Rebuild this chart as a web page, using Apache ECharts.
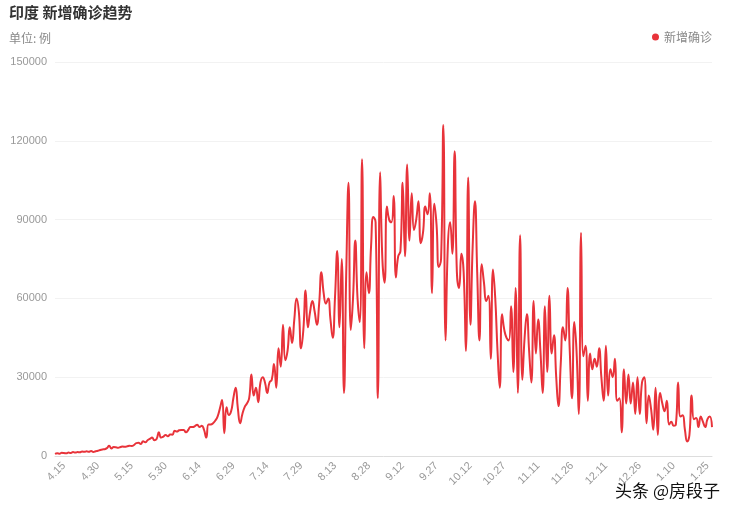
<!DOCTYPE html>
<html><head><meta charset="utf-8">
<script src="https://cdn.jsdelivr.net/npm/echarts@6/dist/echarts.min.js"></script>
<style>html,body{margin:0;padding:0;background:#fff}#c{width:733px;height:508px}</style>
</head><body><div id="c"></div>
<script>
const startDate = [2020, 4, 11];
const aprVals = [800,1000,900,1200,1100,1000,1300,1100,1500,1300,1500,1400,1700,1600,1800,1600,1900,1500,1800,2000];
const mayVals = [2300,2500,2600,3000,3900,2900,3400,3300,3100,3400,3600,3500,3700,3900,3800,4200,4900,5000,4600,5600,5200,6000,6500,7000,6000,6500,9000,7000,7400,8000,7500];
const junVals = [8200,8100,9600,9300,9800,9900,9900,9000,9900,11000,11000,11400,11900,11000,11500,10000,7000,12000,12000,12500,13500,15000,18000,21300,8700,18600,15600,17000,22000,26000];
const julVals = [18000,12500,16000,18600,20000,22000,31000,23000,26000,20500,28000,30000,28000,24000,28000,29000,35000,26000,41000,34000,50000,36500,40000,49000,43000,52000,60000,55000,41000,48000,63000];
const augVals = [49000,55000,59000,55000,50000,58000,70000,62000,58000,60000,52000,45000,60000,78000,49000,75000,24000,70000,104000,48000,60000,82000,60000,51000,113000,41000,70000,62000,80000,91000,89000];
const sepVals = [22000,108000,75000,66000,95000,90000,89000,99000,68000,76000,78000,104000,76000,111000,82000,100000,86000,90000,97000,81000,85000,95000,92000,100000,62000,96000,88000,72000,75000,126000];
const octVals = [44000,80000,89000,77000,116000,70000,64000,77000,70000,40000,106000,50000,80000,97000,70000,44000,73000,66000,59000,61000,37000,71000,60000,40000,26000,54000,48000,45000,44000,57000,32000];
const novVals = [64000,24000,84000,29000,45000,54000,40000,28000,59000,39000,52000,40000,24000,57000,32000,61000,39000,46000,30000,19000,35000,49000,44000,64000,40000,22000,51000,40000,16000,85000];
const decVals = [38000,42000,21000,39000,33000,37000,34000,41000,30000,21000,42000,23000,33000,30000,37000,21000,22000,9000,33000,20000,31000,20000,28000,16000,30000,16000,28000,30000,12500,23000,18000];
const janVals = [10000,26000,8000,24000,20000,17000,21000,12000,13000,11500,12000,28000,15000,15500,10000,5500,8000,23000,14000,14500,11000,15000,13000,11000,14000,15000,11000];
const values = [].concat(aprVals, mayVals, junVals, julVals, augVals, sepVals, octVals, novVals, decVals, janVals);
const categories = [];
{ const d = new Date(startDate[0], startDate[1]-1, startDate[2]);
  for (let i = 0; i < values.length; i++) { categories.push((d.getMonth()+1) + '.' + d.getDate()); d.setDate(d.getDate()+1); } }

const chart = echarts.init(document.getElementById('c'));
chart.setOption({
  animation:false,
  title:{text:'印度 新增确诊趋势', subtext:'单位: 例', left:4, top:0,
    textStyle:{fontSize:15, fontWeight:'bold', color:'#333', fontFamily:'Noto Sans CJK SC'},
    subtextStyle:{fontSize:12, color:'#888', fontFamily:'Noto Sans CJK SC'}, itemGap:12},
  legend:{right:16, top:26, icon:'circle', itemWidth:7, itemHeight:7, itemGap:4,
    textStyle:{color:'#888', fontSize:12, fontFamily:'Noto Sans CJK SC'}},
  grid:{left:55, right:21, top:62, bottom:52},
  xAxis:{type:'category', data:categories, boundaryGap:false,
    axisLine:{lineStyle:{color:'#ddd'}}, axisTick:{show:false},
    axisLabel:{color:'#999', fontSize:11, rotate:45, interval:(i)=> (i-4)%15===0}},
  yAxis:{type:'value', min:0, max:150000, interval:30000,
    axisLine:{show:false}, axisTick:{show:false},
    axisLabel:{color:'#999', fontSize:11, formatter:(v)=>String(v)},
    splitLine:{lineStyle:{color:'#f2f2f2'}}},
  series:[{name:'新增确诊', type:'line', data:values, smooth:true, showSymbol:false,
    symbol:'circle', itemStyle:{color:'#e8333a'}, lineStyle:{color:'#e8333a', width:2}}],
  graphic:[{type:'text', right:12, bottom:8, style:{text:'头条 @房段子', fontSize:17,
    fill:'#111', stroke:'#fff', lineWidth:2, fontFamily:'Noto Sans CJK SC'}}]
});
</script></body></html>
